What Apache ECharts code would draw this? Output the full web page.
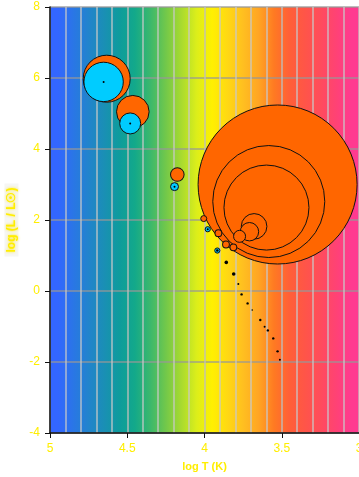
<!DOCTYPE html>
<html>
<head>
<meta charset="utf-8">
<script src="https://cdn.jsdelivr.net/npm/echarts@6/dist/echarts.min.js"></script>
<style>
  html, body { margin: 0; padding: 0; background: #ffffff; }
  #chart { width: 359px; height: 477px; }
</style>
</head>
<body>
<div id="chart"></div>
<script>
// Giant / supergiant stars (orange bubbles): log T, log L, relative radius
const giantLogT = [3.527, 3.584, 3.599, 4.633, 4.464, 3.679, 3.709, 4.176, 3.773, 3.910, 3.861, 3.813, 4.005];
const giantLogL = [3.00, 2.52, 2.35, 5.98, 5.05, 1.82, 1.67, 3.28, 1.54, 1.63, 1.31, 1.23, 2.04];
const giantRadius = [79.5, 56, 42.5, 23.5, 16.3, 12.8, 9.2, 6.8, 6, 3.4, 3.4, 3.4, 3];

// Hot stars (cyan bubbles)
const hotLogT = [4.653, 4.481, 4.194, 3.979, 3.917];
const hotLogL = [5.89, 4.72, 2.94, 1.74, 1.14];
const hotRadius = [19.7, 10.5, 4, 2.6, 2.6];

// Star centres and lower main sequence (black points)
const dotLogT = [4.653, 4.481, 4.194, 3.979, 3.917, 3.859, 3.811, 3.781, 3.760, 3.721, 3.691, 3.639, 3.611, 3.590, 3.555, 3.527, 3.512];
const dotLogL = [5.89, 4.72, 2.94, 1.74, 1.14, 0.806, 0.479, 0.197, -0.096, -0.349, -0.535, -0.817, -1.006, -1.11, -1.335, -1.70, -1.94];
const dotRadius = [1, 1, 1, 1, 1.3, 1.8, 1.8, 1, 1.2, 1.2, 0.8, 1.2, 1, 1.2, 1.2, 1.2, 1];

// Temperature colour bands from log T = 5 (left) to log T = 3 (right)
const bandColors = ['#3366ff', '#2a76e6', '#2184cc', '#1a8fb5', '#0e9c9c', '#13a98a', '#3cb86c', '#72c84a', '#a8da30', '#dcee1a',
                    '#fff000', '#ffd814', '#ffbf20', '#ffa524', '#ff7a22', '#ff5f38', '#ff5548', '#ff4c5c', '#ff4274', '#ff3a90'];

const xTicks = { min: 3, max: 5, interval: 0.5 };
const yTicks = { min: -4, max: 8, interval: 2 };

function zip(a, b, c) { return a.map((v, i) => [v, b[i], c[i]]); }

// draw the biggest bubbles first so every outline stays visible
const giants = zip(giantLogT, giantLogL, giantRadius).sort((p, q) => q[2] - p[2]);
const hots = zip(hotLogT, hotLogL, hotRadius).sort((p, q) => q[2] - p[2]);
const dots = zip(dotLogT, dotLogL, dotRadius);

const bgStops = bandColors.map((c, i) => ({ offset: (i + 0.5) / bandColors.length, color: c }));
bgStops.unshift({ offset: 0, color: bandColors[0] });
bgStops.push({ offset: 1, color: bandColors[bandColors.length - 1] });

const yellow = '#ffee00';
const chart = echarts.init(document.getElementById('chart'), null, { renderer: 'canvas' });

chart.setOption({
  animation: false,
  backgroundColor: '#ffffff',
  grid: {
    left: 50, right: 0, top: 7, bottom: 44,
    containLabel: false,
    outerBoundsMode: 'none',
    show: true,
    borderWidth: 0,
    backgroundColor: { type: 'linear', x: 0, y: 0, x2: 1, y2: 0, colorStops: bgStops }
  },
  xAxis: {
    type: 'value',
    inverse: true,
    min: xTicks.min, max: xTicks.max, interval: xTicks.interval,
    name: 'log T (K)',
    nameLocation: 'middle',
    nameGap: 28,
    nameTextStyle: { color: yellow, fontSize: 11, fontWeight: 'bold', fontFamily: 'Liberation Sans, Arial, sans-serif' },
    axisLine: { show: true, onZero: false, lineStyle: { color: '#111', width: 1.5 } },
    axisTick: { show: true, length: 5, lineStyle: { color: '#111' } },
    axisLabel: { color: yellow, fontSize: 12, margin: 10, fontFamily: 'Liberation Sans, Arial, sans-serif' },
    splitLine: { show: true, lineStyle: { color: 'rgba(190,190,190,0.9)', width: 1.5 } },
    minorTick: { show: false, splitNumber: 5 },
    minorSplitLine: { show: true, lineStyle: { color: 'rgba(200,200,200,0.85)', width: 1.5 } }
  },
  yAxis: {
    type: 'value',
    min: yTicks.min, max: yTicks.max, interval: yTicks.interval,
    name: 'log (L / L☉)',
    nameLocation: 'middle',
    nameGap: 25,
    nameRotate: 90,
    nameTextStyle: {
      color: yellow, fontSize: 12, fontWeight: 'bold', fontFamily: 'Liberation Sans, Arial, sans-serif',
      backgroundColor: '#f6f6f4', padding: [1, 4, 1, 4],
      textShadowColor: 'rgba(255,230,0,0.9)', textShadowBlur: 3
    },
    axisLine: { show: true, onZero: false, lineStyle: { color: '#111', width: 1.5 } },
    axisTick: { show: true, length: 5, lineStyle: { color: '#111' } },
    axisLabel: { color: yellow, fontSize: 12, margin: 10, fontFamily: 'Liberation Sans, Arial, sans-serif' },
    splitLine: { show: true, lineStyle: { color: 'rgba(150,150,150,0.85)', width: 1.5 } }
  },
  series: [
    {
      type: 'scatter',
      data: giants,
      symbol: 'circle',
      symbolSize: v => v[2] * 2,
      itemStyle: { color: '#ff6600', borderColor: '#111', borderWidth: 1, opacity: 1 },
      clip: false,
      z: 2
    },
    {
      type: 'scatter',
      data: hots,
      symbol: 'circle',
      symbolSize: v => v[2] * 2,
      itemStyle: { color: '#00ccff', borderColor: '#111', borderWidth: 1, opacity: 1 },
      clip: false,
      z: 3
    },
    {
      type: 'scatter',
      data: dots,
      symbol: 'circle',
      symbolSize: v => v[2] * 2,
      itemStyle: { color: '#000', opacity: 1 },
      clip: false,
      z: 4
    }
  ]
});
</script>
</body>
</html>
